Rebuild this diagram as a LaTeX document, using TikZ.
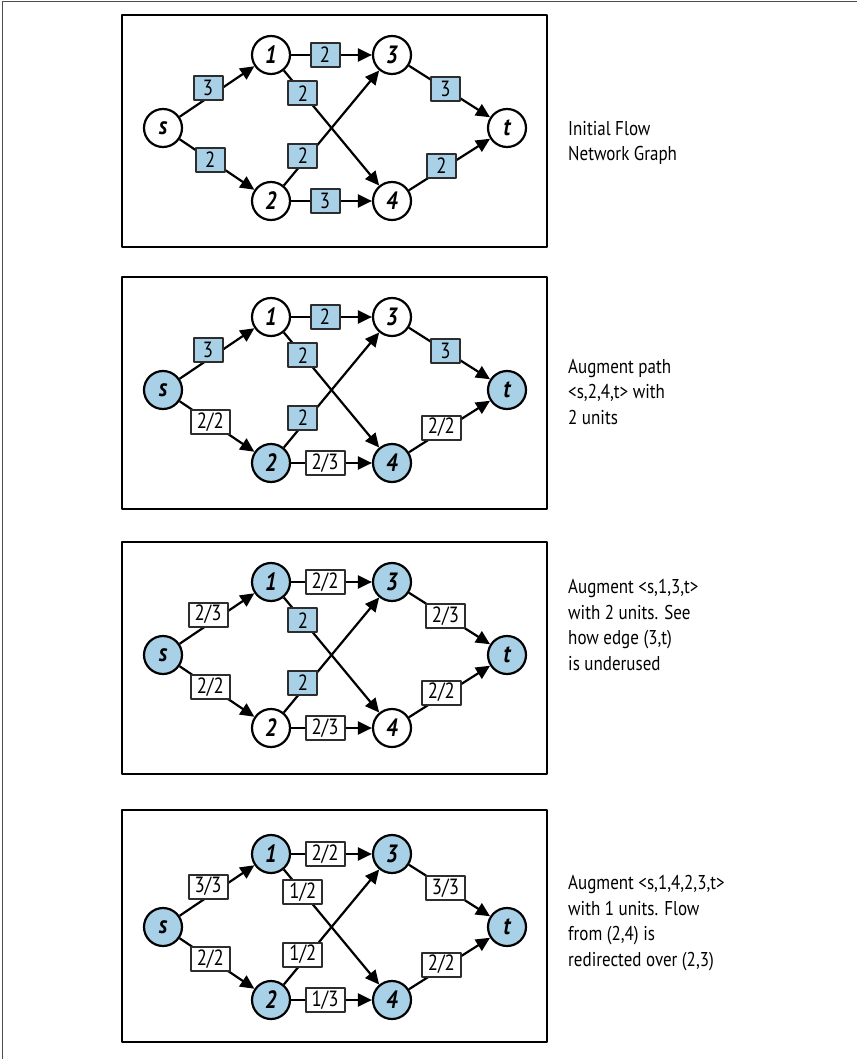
\documentclass[tikz,border=0pt]{standalone}
\usepackage{fontspec}
\setmainfont[FakeStretch=0.85]{PT Sans}
\usetikzlibrary{arrows.meta}
\definecolor{hitblue}{RGB}{168,208,230}
\definecolor{boxgray}{RGB}{45,45,45}
\tikzset{
	vert/.style={circle,draw,line width=2.2pt,minimum size=38pt,inner sep=0pt,fill=white,
		font=\fontsize{25}{25}\selectfont\bfseries\itshape},
	hit/.style={fill=hitblue},
	edge/.style={line width=2.2pt,-{Triangle[length=14pt,width=13pt]}},
	capbox/.style={draw=boxgray,line width=2pt,fill=hitblue,minimum width=29pt,minimum height=24pt,
		inner xsep=6pt,inner ysep=0pt,font=\fontsize{22}{22}\selectfont},
	flowbox/.style={capbox,fill=white},
	panel/.style={line width=2.4pt},
	note/.style={anchor=west,align=left,inner sep=0pt,font=\fontsize{20}{25.5}\selectfont}
}
\begin{document}
\begin{tikzpicture}[x=1pt,y=-1pt,line join=round]
	\def\W{857} \def\H{1059}
	\useasboundingbox (0,0) rectangle (\W,\H);
	\draw[line width=1.5pt,black!70] (2.5,\H) -- (2.5,1.5) -- (\W,1.5);
	% panel 1
	\begin{scope}[shift={(0,15)}]
		\draw[panel] (122,0) rectangle (547,232);
		\node[vert] (sa) at (163,113) {s};
		\node[vert] (v1a) at (271,40) {1};
		\node[vert] (v2a) at (271,186) {2};
		\node[vert] (v3a) at (392,40) {3};
		\node[vert] (v4a) at (392,186) {4};
		\node[vert] (ta) at (507,113) {t};
		\draw[edge] (sa) -- node[capbox,pos=.38,yshift=10pt] (la1) {3} (v1a);
		\draw[edge] (sa) -- node[capbox,pos=.41] (la2) {2} (v2a);
		\draw[edge] (v1a) -- node[capbox,pos=.42] (la3) {2} (v3a);
		\draw[edge] (v1a) -- node[capbox,pos=.2] (la4) {2} (v4a);
		\draw[edge] (v2a) -- node[capbox,pos=.2,yshift=7pt] (la5) {2} (v3a);
		\draw[edge] (v2a) -- node[capbox,pos=.42] (la6) {3} (v4a);
		\draw[edge] (v3a) -- node[capbox,pos=.45] (la7) {3} (ta);
		\draw[edge] (v4a) -- node[capbox,pos=.4,yshift=4pt] (la8) {2} (ta);
	\end{scope}
	\node[note] (na) at (568,143) {Initial Flow\\Network Graph};
	% panel 2
	\begin{scope}[shift={(0,277)}]
		\draw[panel] (122,0) rectangle (547,232);
		\node[vert,hit] (sb) at (163,113) {s};
		\node[vert] (v1b) at (271,40) {1};
		\node[vert,hit] (v2b) at (271,186) {2};
		\node[vert] (v3b) at (392,40) {3};
		\node[vert,hit] (v4b) at (392,186) {4};
		\node[vert,hit] (tb) at (507,113) {t};
		\draw[edge] (sb) -- node[capbox,pos=.38,yshift=10pt] (lb1) {3} (v1b);
		\draw[edge] (sb) -- node[flowbox,pos=.41] (lb2) {2/2} (v2b);
		\draw[edge] (v1b) -- node[capbox,pos=.42] (lb3) {2} (v3b);
		\draw[edge] (v1b) -- node[capbox,pos=.2] (lb4) {2} (v4b);
		\draw[edge] (v2b) -- node[capbox,pos=.2,yshift=7pt] (lb5) {2} (v3b);
		\draw[edge] (v2b) -- node[flowbox,pos=.42] (lb6) {2/3} (v4b);
		\draw[edge] (v3b) -- node[capbox,pos=.45] (lb7) {3} (tb);
		\draw[edge] (v4b) -- node[flowbox,pos=.4,yshift=4pt] (lb8) {2/2} (tb);
	\end{scope}
	\node[note] (nb) at (568,392) {Augment path\\<s,2,4,t> with\\2 units};
	% panel 3
	\begin{scope}[shift={(0,542)}]
		\draw[panel] (122,0) rectangle (547,232);
		\node[vert,hit] (sc) at (163,113) {s};
		\node[vert,hit] (v1c) at (271,40) {1};
		\node[vert] (v2c) at (271,186) {2};
		\node[vert,hit] (v3c) at (392,40) {3};
		\node[vert] (v4c) at (392,186) {4};
		\node[vert,hit] (tc) at (507,113) {t};
		\draw[edge] (sc) -- node[flowbox,pos=.38,yshift=10pt] (lc1) {2/3} (v1c);
		\draw[edge] (sc) -- node[flowbox,pos=.41] (lc2) {2/2} (v2c);
		\draw[edge] (v1c) -- node[flowbox,pos=.42] (lc3) {2/2} (v3c);
		\draw[edge] (v1c) -- node[capbox,pos=.2] (lc4) {2} (v4c);
		\draw[edge] (v2c) -- node[capbox,pos=.2,yshift=7pt] (lc5) {2} (v3c);
		\draw[edge] (v2c) -- node[flowbox,pos=.42] (lc6) {2/3} (v4c);
		\draw[edge] (v3c) -- node[flowbox,pos=.45] (lc7) {2/3} (tc);
		\draw[edge] (v4c) -- node[flowbox,pos=.4,yshift=4pt] (lc8) {2/2} (tc);
	\end{scope}
	\node[note] (nc) at (568,625) {Augment <s,1,3,t>\\with 2 units. See\\how edge (3,t)\\is underused};
	% panel 4
	\begin{scope}[shift={(0,810)}]
		\draw[panel] (122,0) rectangle (547,232);
		\node[vert,hit] (sd) at (163,117) {s};
		\node[vert,hit] (v1d) at (271,44) {1};
		\node[vert,hit] (v2d) at (271,190) {2};
		\node[vert,hit] (v3d) at (392,44) {3};
		\node[vert,hit] (v4d) at (392,190) {4};
		\node[vert,hit] (td) at (507,117) {t};
		\draw[edge] (sd) -- node[flowbox,pos=.38,yshift=10pt] (ld1) {3/3} (v1d);
		\draw[edge] (sd) -- node[flowbox,pos=.41] (ld2) {2/2} (v2d);
		\draw[edge] (v1d) -- node[flowbox,pos=.42] (ld3) {2/2} (v3d);
		\draw[edge] (v1d) -- node[flowbox,pos=.2] (ld4) {1/2} (v4d);
		\draw[edge] (v2d) -- node[flowbox,pos=.2,yshift=7pt] (ld5) {1/2} (v3d);
		\draw[edge] (v2d) -- node[flowbox,pos=.42] (ld6) {1/3} (v4d);
		\draw[edge] (v3d) -- node[flowbox,pos=.45] (ld7) {3/3} (td);
		\draw[edge] (v4d) -- node[flowbox,pos=.4,yshift=4pt] (ld8) {2/2} (td);
	\end{scope}
	\node[note] (nd) at (568,923) {Augment <s,1,4,2,3,t>\\with 1 units. Flow\\from (2,4) is\\redirected over (2,3)};
\end{tikzpicture}
\end{document}
